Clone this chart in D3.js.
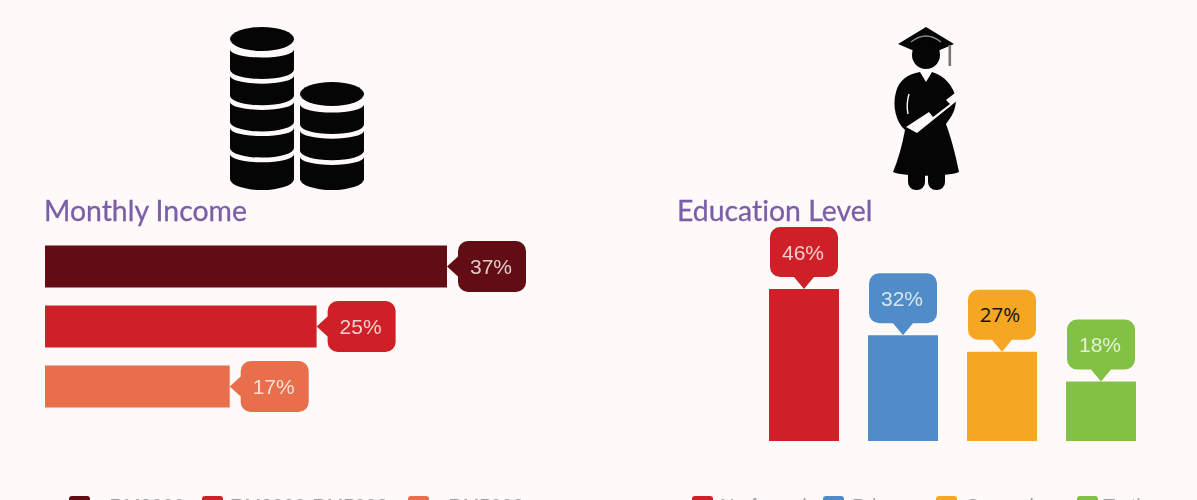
<!DOCTYPE html>
<html>
<head>
<meta charset="utf-8">
<script src="https://cdn.jsdelivr.net/npm/d3@7/dist/d3.min.js"></script>
<style>
html,body{margin:0;padding:0;background:#fff9f9;overflow:hidden;width:1197px;height:500px}
svg{display:block;position:absolute;left:0;top:0}
.soft{filter:blur(0.6px)}
</style>
</head>
<body>
<svg id="chart" width="1197" height="500"></svg>
<script>
const incomeTitle = "Monthly Income";
const incomeCategories = ["< RM3000", "RM3000-RM5000", "> RM5000"];
const incomeValues = [37, 25, 17];

const educationTitle = "Education Level";
const educationCategories = ["No formal", "Primary", "Secondary", "Tertiary"];
const educationValues = [46, 32, 27, 18];

const BG = "#fff9f9";
const svg = d3.select("#chart");
const soft = svg.append("g").attr("class", "soft");
const crisp = svg.append("g");

const incomeColor = d3.scaleOrdinal(incomeCategories, ["#620d13", "#cf2027", "#e96e4b"]);
const eduColor = d3.scaleOrdinal(educationCategories, ["#cf2027", "#508cc8", "#f5a623", "#82c143"]);

// --- Scales
const incomeX = d3.scaleLinear().domain([0, 37]).range([45, 447]);
const incomeY = d3.scaleBand().domain(incomeCategories).range([245.5, 407.5]).paddingInner(0.3);
const eduX = d3.scaleBand().domain(educationCategories).range([769, 1136]).paddingInner(0.293);
const eduY = d3.scaleLinear().domain([0, 46]).range([441, 289]);

// --- Callout shapes
const W = 68, H = 51, R = 10, GAP = 11, NOTCH = 10;
function calloutRight(tipX, cy) {
  const p = d3.path(), x0 = tipX + GAP, x1 = x0 + W, y0 = cy - H / 2, y1 = cy + H / 2;
  p.moveTo(tipX, cy);
  p.lineTo(x0, cy - NOTCH);
  p.lineTo(x0, y0 + R);
  p.arcTo(x0, y0, x0 + R, y0, R);
  p.lineTo(x1 - R, y0);
  p.arcTo(x1, y0, x1, y0 + R, R);
  p.lineTo(x1, y1 - R);
  p.arcTo(x1, y1, x1 - R, y1, R);
  p.lineTo(x0 + R, y1);
  p.arcTo(x0, y1, x0, y1 - R, R);
  p.lineTo(x0, cy + NOTCH);
  p.closePath();
  return p.toString();
}
function calloutUp(cx, tipY) {
  const h = 50, p = d3.path(), x0 = cx - W / 2, x1 = cx + W / 2, y1 = tipY - 12, y0 = y1 - h;
  p.moveTo(cx, tipY);
  p.lineTo(cx + NOTCH, y1);
  p.lineTo(x1 - R, y1);
  p.arcTo(x1, y1, x1, y1 - R, R);
  p.lineTo(x1, y0 + R);
  p.arcTo(x1, y0, x1 - R, y0, R);
  p.lineTo(x0 + R, y0);
  p.arcTo(x0, y0, x0, y0 + R, R);
  p.lineTo(x0, y1 - R);
  p.arcTo(x0, y1, x0 + R, y1, R);
  p.lineTo(cx - NOTCH, y1);
  p.closePath();
  return p.toString();
}

// --- Titles
const titleStyle = s => s.attr("font-family", "Lato").attr("font-size", 28.4)
  .attr("fill", "#7b5ea8").attr("stroke", "#7b5ea8").attr("stroke-width", 0.3)
  .style("font-variant-ligatures", "none");
soft.append("text").attr("x", 44).attr("y", 220.5).text(incomeTitle).call(titleStyle);
soft.append("text").attr("x", 677).attr("y", 220.5).text(educationTitle).call(titleStyle);

// --- Income bars
const income = d3.zip(incomeCategories, incomeValues);
soft.selectAll(".ibar").data(income).join("rect").attr("class", "ibar")
  .attr("x", incomeX(0))
  .attr("y", d => incomeY(d[0]))
  .attr("width", d => incomeX(d[1]) - incomeX(0))
  .attr("height", incomeY.bandwidth())
  .attr("fill", d => incomeColor(d[0]));
soft.selectAll(".icall").data(income).join("path").attr("class", "icall")
  .attr("d", d => calloutRight(incomeX(d[1]), incomeY(d[0]) + incomeY.bandwidth() / 2))
  .attr("fill", d => incomeColor(d[0]));
soft.selectAll(".itxt").data(income).join("text").attr("class", "itxt")
  .attr("x", d => incomeX(d[1]) + GAP + W / 2 - 1)
  .attr("y", d => incomeY(d[0]) + incomeY.bandwidth() / 2 + 7.5)
  .attr("text-anchor", "middle")
  .attr("font-family", "Liberation Sans").attr("font-size", 21)
  .attr("fill", "#fff").attr("fill-opacity", 0.78)
  .text(d => d[1] + "%");

// --- Education bars
const edu = d3.zip(educationCategories, educationValues);
soft.selectAll(".ebar").data(edu).join("rect").attr("class", "ebar")
  .attr("x", d => eduX(d[0]))
  .attr("y", d => eduY(d[1]))
  .attr("width", eduX.bandwidth())
  .attr("height", d => eduY(0) - eduY(d[1]))
  .attr("fill", d => eduColor(d[0]));
soft.selectAll(".ecall").data(edu).join("path").attr("class", "ecall")
  .attr("d", d => calloutUp(eduX(d[0]) + eduX.bandwidth() / 2, eduY(d[1])))
  .attr("fill", d => eduColor(d[0]));
const darkLabel = d => d[0] === "Secondary";
soft.selectAll(".etxt").data(edu.filter(d => !darkLabel(d))).join("text").attr("class", "etxt")
  .attr("x", d => eduX(d[0]) + eduX.bandwidth() / 2 - 1)
  .attr("y", d => eduY(d[1]) - 29.5)
  .attr("text-anchor", "middle")
  .attr("font-family", "Liberation Sans").attr("font-size", 21)
  .attr("fill", "#fff").attr("fill-opacity", 0.78)
  .text(d => d[1] + "%");
crisp.selectAll(".etxt2").data(edu.filter(darkLabel)).join("text").attr("class", "etxt2")
  .attr("x", d => eduX(d[0]) + eduX.bandwidth() / 2 - 2)
  .attr("y", d => eduY(d[1]) - 29.5)
  .attr("text-anchor", "middle")
  .attr("font-family", "Open Sans").attr("font-size", 20.5)
  .attr("fill", "#111")
  .text(d => d[1] + "%");

// --- Legends
function legend(cats, color, swatchXs, textXs) {
  const g = soft.append("g");
  cats.forEach((c, i) => {
    g.append("rect").attr("x", swatchXs[i]).attr("y", 496).attr("width", 21).attr("height", 21)
      .attr("rx", 3).attr("fill", color(c));
    g.append("text").attr("x", textXs[i]).attr("y", 513)
      .attr("font-family", "Liberation Sans").attr("font-size", 20).attr("fill", "#a0a0a0").text(c);
  });
}
legend(incomeCategories, incomeColor, [69, 202, 408], [92, 230, 431]);
legend(educationCategories, eduColor, [692, 823, 936, 1077], [720, 852, 966, 1103]);

// --- Coin icon: a top disc and curved segments below it
function coinStack(cx, discCy, segments, lastEdge) {
  const rx = 32, step = 26.2, segH = 20;
  const g = soft.append("g").attr("fill", "#050505");
  g.append("ellipse").attr("cx", cx).attr("cy", discCy).attr("rx", rx).attr("ry", 12);
  d3.range(segments).forEach(i => {
    const top = discCy + 10.5 + i * step;
    const last = i === segments - 1;
    const bot = last ? lastEdge : top + segH;
    g.append("path").attr("d",
      `M${cx - rx},${top} A${rx},8 0 0 0 ${cx + rx},${top} L${cx + rx},${bot} A${rx},${last ? 11 : 9.5} 0 0 1 ${cx - rx},${bot} Z`);
  });
}
coinStack(262, 39, 5, 179);
coinStack(332, 94, 3, 179);

// --- Graduate icon
const grad = soft.append("g").attr("fill", "#050505");
grad.append("path").attr("d", "M898,44 L926,27 L954,44 L926,56 Z");
grad.append("path").attr("d", "M911,42 Q926,30 941,42").attr("fill", "none").attr("stroke", "#8d8d8d").attr("stroke-width", 1.3);
grad.append("rect").attr("x", 948.5).attr("y", 45).attr("width", 2.6).attr("height", 21).attr("fill", "#777");
grad.append("circle").attr("cx", 926).attr("cy", 55).attr("r", 14);
grad.append("path").attr("d", "M920,72 C908,74 899,80 896,92 C892,106 896,122 905,130 C902,146 898,160 893,172 C905,177 947,177 959,172 C955,152 951,138 946,124 C952,116 956,110 956,98 C953,86 945,76 932,72 L926,82 Z");
grad.append("rect").attr("x", 908).attr("y", 165).attr("width", 17).attr("height", 25).attr("rx", 8);
grad.append("rect").attr("x", 928).attr("y", 165).attr("width", 17).attr("height", 25).attr("rx", 8);
grad.append("path").attr("d", "M906,127 L929,112 L933,117 L950,104 L946,100 L955,93 L958,100 L917,133 Z").attr("fill", BG);
grad.append("path").attr("d", "M909,94 Q906,104 908,114").attr("fill", "none").attr("stroke", BG).attr("stroke-width", 1.4);
</script>
</body>
</html>
